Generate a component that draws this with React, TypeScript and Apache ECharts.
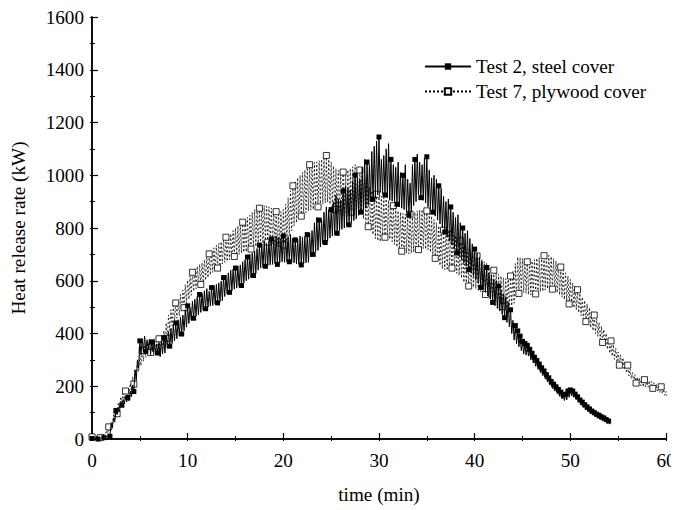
import React, { useEffect, useRef } from "react";
import * as echarts from "echarts";

// Readings every 0.125 min (alternating upper / lower edge of the noisy trace)
const STEP = 0.125;

// Test 2, steel cover, t = 0 .. 54 min (one row per minute)
const steelVals = [
  2, 0, 3, 0, 4, 0, 3, 1,
  4, 0, 5, 2, 12, 6, 20, 10,
  58, 42, 80, 64, 108, 92, 120, 104,
  142, 128, 150, 134, 160, 140, 158, 144,
  182, 160, 205, 180, 262, 222, 300, 270,
  372, 318, 380, 330, 390, 332, 376, 340,
  378, 320, 368, 330, 372, 318, 360, 326,
  366, 312, 372, 322, 384, 326, 392, 344,
  408, 352, 420, 362, 432, 372, 440, 380,
  452, 390, 462, 398, 470, 410, 490, 424,
  505, 438, 498, 450, 522, 458, 530, 466,
  540, 470, 548, 480, 552, 488, 562, 494,
  570, 500, 560, 504, 574, 506, 582, 512,
  586, 516, 592, 520, 598, 524, 612, 540,
  622, 550, 630, 556, 640, 562, 644, 568,
  648, 572, 656, 578, 660, 582, 672, 592,
  680, 600, 690, 606, 700, 612, 705, 620,
  712, 628, 722, 640, 735, 648, 740, 650,
  748, 655, 742, 658, 752, 660, 758, 662,
  760, 665, 770, 662, 765, 668, 762, 672,
  770, 670, 760, 672, 768, 672, 775, 670,
  762, 668, 755, 664, 758, 662, 770, 660,
  765, 665, 768, 668, 775, 670, 780, 690,
  790, 700, 820, 710, 840, 715, 830, 728,
  830, 740, 860, 745, 880, 750, 870, 762,
  870, 770, 900, 775, 925, 780, 910, 790,
  905, 795, 940, 800, 960, 805, 950, 812,
  945, 820, 980, 828, 1000, 835, 990, 848,
  985, 860, 1030, 868, 1060, 875, 1050, 888,
  1040, 900, 1090, 908, 1110, 915, 1130, 925,
  1145, 935, 1060, 930, 1075, 925, 1100, 915,
  1120, 905, 1060, 902, 1040, 900, 1030, 890,
  1050, 880, 1010, 875, 1000, 870, 1040, 860,
  985, 850, 970, 860, 1040, 885, 1060, 900,
  1080, 925, 1050, 915, 1040, 905, 1065, 895,
  1070, 880, 1020, 870, 990, 860, 1000, 845,
  985, 830, 960, 815, 950, 800, 920, 785,
  900, 765, 910, 750, 880, 735, 860, 720,
  840, 705, 850, 692, 820, 680, 800, 668,
  780, 655, 790, 642, 760, 630, 740, 618,
  720, 605, 705, 590, 690, 575, 675, 565,
  660, 555, 650, 542, 630, 530, 620, 518,
  605, 505, 600, 495, 580, 485, 565, 472,
  550, 460, 540, 442, 520, 425, 490, 400,
  450, 375, 430, 362, 410, 350, 390, 335,
  370, 322, 362, 318, 355, 315, 340, 300,
  325, 288, 310, 276, 298, 264, 284, 252,
  270, 240, 258, 228, 244, 216, 232, 204,
  218, 192, 208, 182, 198, 172, 188, 162,
  178, 152, 168, 146, 170, 148, 182, 158,
  186, 164, 182, 158, 170, 150, 160, 140,
  148, 128, 140, 120, 130, 110, 122, 104,
  114, 96, 106, 90, 100, 84, 94, 78,
  90, 74, 84, 68, 80, 64, 74, 60,
  68, 56,
];

// Test 7, plywood cover, t = 0 .. 60 min (one row per minute)
const plyVals = [
  8, 2, 10, 3, 12, 4, 14, 5,
  16, 8, 22, 12, 32, 20, 46, 32,
  64, 48, 90, 72, 116, 96, 138, 118,
  160, 140, 172, 150, 182, 160, 196, 172,
  210, 184, 236, 208, 262, 232, 290, 256,
  315, 278, 336, 295, 352, 310, 365, 320,
  375, 328, 380, 330, 382, 332, 385, 334,
  380, 334, 395, 345, 410, 356, 440, 382,
  470, 412, 490, 430, 505, 448, 516, 458,
  528, 466, 548, 482, 565, 498, 585, 515,
  602, 530, 618, 545, 632, 560, 645, 570,
  655, 578, 662, 586, 668, 594, 680, 602,
  690, 612, 702, 622, 712, 632, 725, 640,
  735, 648, 742, 656, 748, 664, 758, 670,
  765, 674, 772, 680, 778, 688, 790, 692,
  800, 698, 808, 700, 812, 705, 822, 708,
  830, 710, 840, 715, 848, 720, 860, 725,
  870, 730, 872, 735, 875, 740, 880, 742,
  885, 745, 882, 746, 880, 748, 875, 740,
  868, 735, 862, 730, 858, 728, 862, 730,
  870, 735, 890, 750, 915, 770, 940, 790,
  960, 808, 975, 820, 990, 835, 1000, 845,
  1010, 852, 1020, 858, 1030, 865, 1040, 868,
  1045, 870, 1048, 875, 1050, 880, 1055, 885,
  1060, 890, 1070, 895, 1075, 898, 1060, 890,
  1050, 880, 1035, 870, 1025, 860, 1018, 850,
  1010, 842, 1012, 845, 1015, 848, 1020, 855,
  1025, 860, 1032, 862, 1040, 865, 1030, 858,
  1020, 850, 1000, 835, 985, 820, 970, 805,
  955, 790, 940, 775, 930, 760, 928, 752,
  925, 748, 920, 758, 915, 765, 910, 762,
  905, 758, 895, 748, 885, 738, 875, 728,
  865, 718, 860, 712, 855, 708, 852, 705,
  850, 702, 852, 705, 855, 708, 860, 712,
  865, 718, 868, 720, 870, 722, 868, 720,
  865, 718, 855, 708, 845, 698, 832, 685,
  820, 672, 808, 658, 795, 645, 792, 642,
  790, 640, 792, 644, 795, 648, 785, 638,
  772, 628, 762, 620, 752, 610, 740, 594,
  730, 578, 720, 580, 712, 580, 705, 575,
  700, 570, 694, 564, 688, 558, 680, 552,
  672, 548, 665, 540, 658, 534, 650, 528,
  640, 520, 632, 512, 625, 506, 618, 502,
  612, 498, 608, 496, 605, 495, 618, 505,
  635, 515, 665, 535, 690, 552, 688, 554,
  685, 555, 678, 552, 672, 548, 673, 546,
  675, 545, 680, 550, 685, 555, 688, 558,
  690, 560, 695, 565, 700, 570, 696, 569,
  692, 568, 684, 562, 675, 555, 664, 546,
  652, 538, 641, 529, 630, 520, 618, 512,
  605, 505, 592, 498, 580, 490, 566, 479,
  552, 468, 538, 456, 525, 445, 512, 434,
  498, 422, 484, 411, 470, 400, 456, 389,
  442, 378, 428, 366, 415, 355, 400, 340,
  385, 325, 372, 314, 358, 302, 344, 291,
  330, 280, 319, 271, 308, 262, 294, 251,
  280, 240, 266, 229, 252, 218, 244, 212,
  235, 205, 230, 202, 226, 198, 225, 197,
  224, 196, 221, 194, 218, 192, 213, 187,
  208, 182, 203, 177, 198, 172, 189, 166,
  180, 160,
];

const xTicks = { min: 0, max: 60, interval: 10 };
const yTicks = { min: 0, max: 1600, interval: 200 };

const SERIES_STEEL = "Test 2, steel cover";
const SERIES_PLY = "Test 7, plywood cover";

function toPoints(vals: number[]): number[][] {
  return vals.map((v, i) => [i * STEP, v]);
}

const FONT = "'Liberation Serif', 'DejaVu Serif', serif";
const FS = 19.2;

export default function App() {
  const ref = useRef<HTMLDivElement>(null);
  useEffect(() => {
    if (!ref.current) return;
    const chart = echarts.init(ref.current, undefined, { renderer: "svg" });
    const axisCommon = {
      axisLine: { show: true, lineStyle: { color: "#000", width: 1.5 } },
      splitLine: { show: false },
    };
    const plain = (v: number) => String(v);
    chart.setOption({
      animation: false,
      backgroundColor: "#fff",
      grid: {
        left: 84,
        right: 13,
        top: 9,
        bottom: 71,
        containLabel: false,
        outerBoundsMode: "none",
      },
      legend: {
        left: 411,
        top: 44,
        orient: "vertical",
        itemWidth: 46,
        itemHeight: 8,
        itemGap: 6,
        data: [SERIES_STEEL, SERIES_PLY],
        textStyle: { fontFamily: FONT, fontSize: FS, color: "#000" },
      },
      xAxis: [
        {
          type: "value",
          ...xTicks,
          position: "bottom",
          ...axisCommon,
          axisTick: { show: true, inside: true, length: 6, lineStyle: { color: "#000", width: 1.2 } },
          minorTick: { show: true, splitNumber: 2, length: 3, lineStyle: { color: "#000", width: 1 } },
          axisLabel: { color: "#000", fontFamily: FONT, fontSize: FS, margin: 12, formatter: plain },
          name: "time (min)",
          nameLocation: "middle",
          nameGap: 46,
          nameTextStyle: { color: "#000", fontFamily: FONT, fontSize: FS },
        },
        {
          type: "value",
          ...xTicks,
          position: "top",
          ...axisCommon,
          axisTick: { show: true, inside: true, length: 2, lineStyle: { color: "#000", width: 1 } },
          minorTick: { show: true, splitNumber: 2, length: 2, lineStyle: { color: "#000", width: 1 } },
          axisLabel: { show: false },
        },
      ],
      yAxis: [
        {
          type: "value",
          ...yTicks,
          position: "left",
          ...axisCommon,
          axisTick: { show: true, inside: true, length: 6, lineStyle: { color: "#000", width: 1.2 } },
          minorTick: { show: true, splitNumber: 2, length: 3, lineStyle: { color: "#000", width: 1 } },
          axisLabel: { color: "#000", fontFamily: FONT, fontSize: FS, margin: 8, formatter: plain },
          name: "Heat release rate (kW)",
          nameLocation: "middle",
          nameGap: 64,
          nameTextStyle: { color: "#000", fontFamily: FONT, fontSize: FS },
        },
        {
          type: "value",
          ...yTicks,
          position: "right",
          ...axisCommon,
          axisTick: { show: true, inside: true, length: 2, lineStyle: { color: "#000", width: 1 } },
          minorTick: { show: true, splitNumber: 2, length: 2, lineStyle: { color: "#000", width: 1 } },
          axisLabel: { show: false },
        },
      ],
      series: [
        {
          name: SERIES_PLY,
          type: "line",
          xAxisIndex: 0,
          yAxisIndex: 0,
          data: toPoints(plyVals),
          symbol: "rect",
          symbolSize: (_v: any, p: any) => (p.dataIndex % 7 === 0 ? 6 : 0),
          lineStyle: { color: "#000", width: 0.8, type: [2, 2] },
          itemStyle: { color: "#fff", borderColor: "#000", borderWidth: 0.8 },
          emphasis: { disabled: true },
          z: 2,
        },
        {
          name: SERIES_STEEL,
          type: "line",
          xAxisIndex: 0,
          yAxisIndex: 0,
          data: toPoints(steelVals),
          symbol: "rect",
          symbolSize: (v: any, p: any) =>
            v[0] > 44 ? (p.dataIndex % 2 === 0 ? 5 : 0) : p.dataIndex % 5 === 0 ? 5 : 0,
          lineStyle: { color: "#000", width: 1 },
          itemStyle: { color: "#000", borderColor: "#000", borderWidth: 0 },
          emphasis: { disabled: true },
          z: 3,
        },
      ],
    });
    return () => chart.dispose();
  }, []);
  return <div ref={ref} style={{ width: 671, height: 502 }} />;
}
